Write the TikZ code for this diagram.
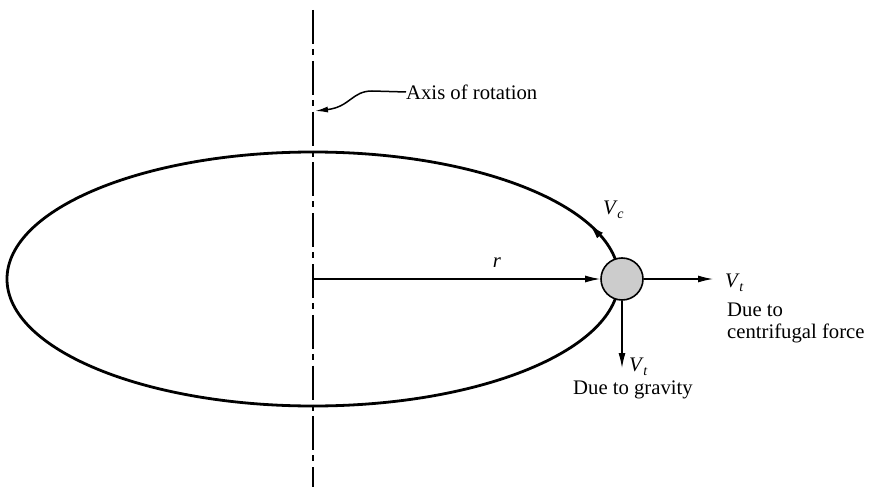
\documentclass[tikz,border=0pt]{standalone}
\usepackage{fontspec}
\setmainfont{Liberation Serif}
\usetikzlibrary{arrows.meta}
\newcommand{\vsub}[1]{\textit{V}\kern-0.5pt\raisebox{-4.5pt}{\fontsize{14}{14}\selectfont\textit{#1}}}
\begin{document}
\begin{tikzpicture}[x=1pt,y=-1pt,
  lbl/.style={font=\fontsize{20.7}{24}\selectfont, inner sep=0pt},
  arr/.style={line width=1.2pt,-{Latex[length=15pt,width=7pt]}},
  axisline/.style={line width=1.5pt, dash pattern=on 34pt off 5pt on 6pt off 5.8pt}]
\useasboundingbox (0,0) rectangle (871,487);
% axis of rotation
\coordinate (axtop) at (313,10);
\coordinate (axbot) at (313,487);
\draw[axisline] (axtop) -- (axbot);
% orbit
\coordinate (c) at (313,279);
\draw[line width=2.8pt] (c) ellipse [x radius=306, y radius=127];
% V_c arrow head on the orbit
\coordinate (vcs) at (604,239.8);
\coordinate (vce) at (590.3,225.3);
\draw[line width=1pt,-{Latex[length=14pt,width=8pt]}] (vcs) -- (vce);
% ball
\node[circle, draw, line width=1.6pt, fill=gray!40, minimum size=42pt, inner sep=0pt] (ball) at (622,279) {};
% arrows
\draw[arr] (c) -- (ball.west);
\coordinate (vtr) at (713,279);
\draw[arr] (ball.east) -- (vtr);
\coordinate (vtd) at (622,368);
\draw[arr] (ball.south) -- (vtd);
% labels
\node[lbl] (r) at (497,263) {\itshape r};
\node[lbl, anchor=base west] (vc) at (603,214) {\vsub{c}};
\node[lbl, anchor=base west] (vt1) at (725,287) {\vsub{t}};
\node[lbl, anchor=base west] (due1) at (727,316) {Due to};
\node[lbl, anchor=base west] (due2) at (727,338) {centrifugal force};
\node[lbl, anchor=base west] (vt2) at (629,371) {\vsub{t}};
\node[lbl, anchor=base west] (grav) at (573,394) {Due to gravity};
\node[lbl, anchor=west] (axis) at (406,92) {Axis of rotation};
% leader
\coordinate (lead) at (315,111);
\draw[line width=1.5pt,-{Latex[length=13pt,width=6pt]}] (axis.west) -- (372,91) .. controls (352,91) and (350,107) .. (lead);
\end{tikzpicture}
\end{document}
